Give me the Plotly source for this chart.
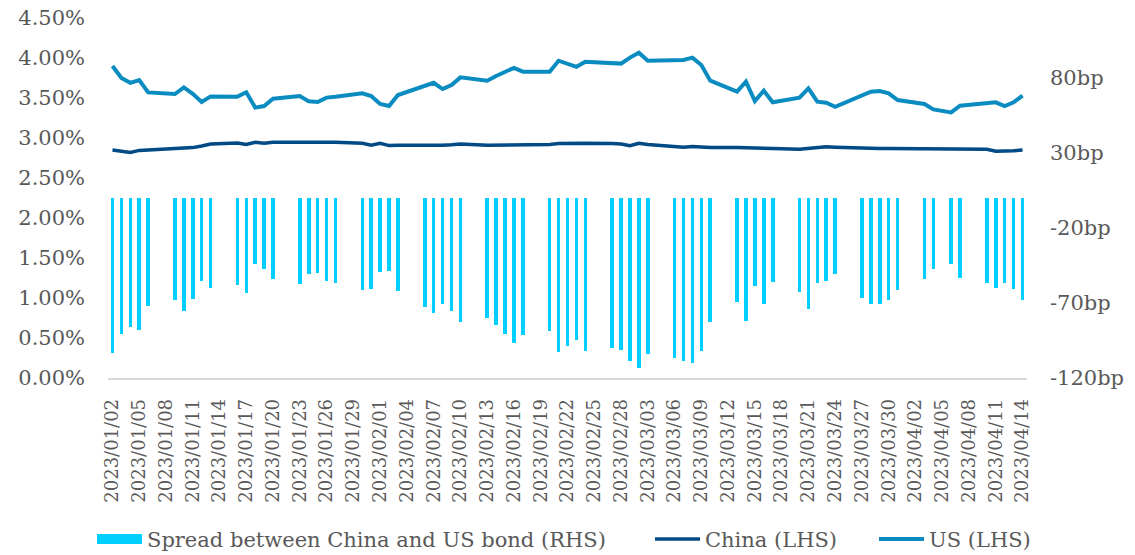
import plotly.graph_objects as go

# Trading days shown (weekdays, 5 April excluded)
dates = [
    "2023-01-02", "2023-01-03", "2023-01-04", "2023-01-05", "2023-01-06",
    "2023-01-09", "2023-01-10", "2023-01-11", "2023-01-12", "2023-01-13",
    "2023-01-16", "2023-01-17", "2023-01-18", "2023-01-19", "2023-01-20",
    "2023-01-23", "2023-01-24", "2023-01-25", "2023-01-26", "2023-01-27",
    "2023-01-30", "2023-01-31", "2023-02-01", "2023-02-02", "2023-02-03",
    "2023-02-06", "2023-02-07", "2023-02-08", "2023-02-09", "2023-02-10",
    "2023-02-13", "2023-02-14", "2023-02-15", "2023-02-16", "2023-02-17",
    "2023-02-20", "2023-02-21", "2023-02-22", "2023-02-23", "2023-02-24",
    "2023-02-27", "2023-02-28", "2023-03-01", "2023-03-02", "2023-03-03",
    "2023-03-06", "2023-03-07", "2023-03-08", "2023-03-09", "2023-03-10",
    "2023-03-13", "2023-03-14", "2023-03-15", "2023-03-16", "2023-03-17",
    "2023-03-20", "2023-03-21", "2023-03-22", "2023-03-23", "2023-03-24",
    "2023-03-27", "2023-03-28", "2023-03-29", "2023-03-30", "2023-03-31",
    "2023-04-03", "2023-04-04", "2023-04-06", "2023-04-07",
    "2023-04-10", "2023-04-11", "2023-04-12", "2023-04-13", "2023-04-14",
]

# 10Y government bond yields, %
china_yield = [
    2.850, 2.835, 2.820, 2.845, 2.850,
    2.875, 2.880, 2.880, 2.900, 2.925,
    2.938, 2.920, 2.946, 2.933, 2.946,
    2.946, 2.946, 2.946, 2.946, 2.946,
    2.935, 2.910, 2.935, 2.905, 2.910,
    2.905, 2.910, 2.910, 2.915, 2.925,
    2.910, 2.910, 2.910, 2.910, 2.910,
    2.920, 2.930, 2.935, 2.940, 2.935,
    2.930, 2.925, 2.905, 2.935, 2.920,
    2.895, 2.885, 2.895, 2.885, 2.880,
    2.880, 2.880, 2.875, 2.880, 2.870,
    2.860, 2.870, 2.880, 2.890, 2.885,
    2.870, 2.870, 2.870, 2.870, 2.870,
    2.870, 2.870, 2.865, 2.860,
    2.860, 2.835, 2.835, 2.840, 2.850,
]

us_yield = [
    3.900, 3.750, 3.690, 3.725, 3.570,
    3.550, 3.633, 3.553, 3.450, 3.520,
    3.517, 3.571, 3.380, 3.400, 3.490,
    3.525, 3.458, 3.450, 3.505, 3.515,
    3.558, 3.525, 3.425, 3.400, 3.537,
    3.650, 3.690, 3.612, 3.662, 3.758,
    3.716, 3.775, 3.825, 3.877, 3.829,
    3.829, 3.966, 3.924, 3.890, 3.954,
    3.930, 3.930, 4.005, 4.066, 3.966,
    3.970, 3.975, 4.004, 3.912, 3.716,
    3.579, 3.704, 3.462, 3.591, 3.446,
    3.504, 3.621, 3.454, 3.441, 3.391,
    3.537, 3.579, 3.587, 3.558, 3.475,
    3.425, 3.358, 3.320, 3.404,
    3.433, 3.446, 3.400, 3.446, 3.529,
]

# China minus US, basis points
spread_bp = [
    -103.5, -90.9, -86.2, -88.2, -71.8,
    -68.0, -75.1, -67.3, -55.3, -59.8,
    -58.0, -63.6, -44.0, -47.1, -54.2,
    -57.6, -50.9, -50.2, -55.3, -56.4,
    -61.6, -60.4, -49.6, -48.9, -62.2,
    -72.9, -76.9, -70.7, -75.6, -82.7,
    -80.2, -84.4, -90.9, -96.4, -91.6,
    -88.9, -102.9, -98.9, -94.7, -102.2,
    -99.8, -101.1, -108.7, -113.6, -104.2,
    -106.9, -108.7, -109.8, -102.2, -82.7,
    -69.6, -82.0, -58.4, -70.9, -56.0,
    -62.9, -74.2, -56.7, -55.3, -50.4,
    -66.9, -70.7, -70.7, -68.0, -61.1,
    -54.2, -47.1, -44.0, -53.6,
    -56.7, -60.0, -56.7, -60.9, -68.0,
]

# right-hand axis ticks (bp)
rhs_ticks = [-120, -70, -20, 30, 80]
rhs_labels = ["-120bp", "-70bp", "-20bp", "30bp", "80bp"]

SPREAD_NAME = "Spread between China and US bond (RHS)"
CHINA_NAME = "China (LHS)"
US_NAME = "US (LHS)"

C_SPREAD = "#00CFFF"
C_CHINA = "#004A85"
C_US = "#0A8CC0"
TXT = "#595959"
FONT = "DejaVu Serif"
DAY_MS = 86400000

fig = go.Figure()

# legend swatch for the bars (wide flat block)
fig.add_trace(go.Scatter(
    x=[None], y=[None], mode="lines", name=SPREAD_NAME,
    line=dict(color=C_SPREAD, width=11), yaxis="y2", legend="legend",
))
fig.add_trace(go.Bar(
    x=dates, y=spread_bp, name=SPREAD_NAME, showlegend=False,
    marker=dict(color=C_SPREAD, line=dict(width=0)),
    width=0.4 * DAY_MS, yaxis="y2",
))
fig.add_trace(go.Scatter(
    x=dates, y=china_yield, mode="lines", name=CHINA_NAME,
    line=dict(color=C_CHINA, width=3.5), legend="legend2",
))
fig.add_trace(go.Scatter(
    x=dates, y=us_yield, mode="lines", name=US_NAME,
    line=dict(color=C_US, width=4), legend="legend3",
))

legend_common = dict(
    orientation="h", xref="container", xanchor="left",
    yref="container", y=0.065, yanchor="top",
    font=dict(size=21, color=TXT, family=FONT), itemwidth=45,
    bgcolor="rgba(0,0,0,0)",
)

fig.update_layout(
    width=1135, height=555,
    margin=dict(l=108, r=108, t=18, b=177, autoexpand=False),
    paper_bgcolor="white", plot_bgcolor="white",
    font=dict(family=FONT, color=TXT, size=20),
    showlegend=True,
    legend=dict(x=92 / 1135, **legend_common),
    legend2=dict(x=650 / 1135, **legend_common),
    legend3=dict(x=874 / 1135, **legend_common),
    xaxis=dict(
        type="date",
        range=["2023-01-01 12:00", "2023-04-14 12:00"],
        tick0="2023-01-02", dtick=3 * DAY_MS, tickformat="%Y/%m/%d",
        tickangle=-90, tickfont=dict(size=18, color=TXT),
        showgrid=False, zeroline=False, automargin=False,
        showline=True, linecolor="#D9D9D9", linewidth=1.5,
        ticks="", ticklabelstandoff=12,
    ),
    yaxis=dict(
        range=[0, 4.5], tickmode="linear", tick0=0, dtick=0.5,
        tickformat=".2f", ticksuffix="%",
        tickfont=dict(size=21, color=TXT), automargin=False,
        showgrid=False, zeroline=False, showline=False,
        ticks="", ticklabelstandoff=22,
    ),
    yaxis2=dict(
        overlaying="y", side="right",
        range=[-120, 120], tickmode="array",
        tickvals=rhs_ticks, ticktext=rhs_labels,
        tickfont=dict(size=21, color=TXT), automargin=False,
        showgrid=False, zeroline=False, showline=False,
        ticks="", ticklabelstandoff=22,
    ),
    bargap=0,
)

fig.write_html("out.html")
